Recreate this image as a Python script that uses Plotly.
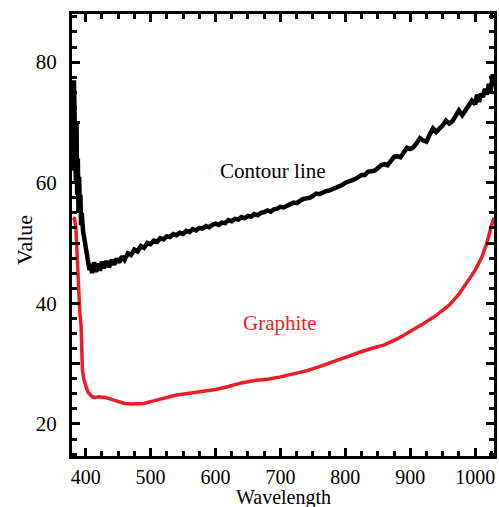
import plotly.graph_objects as go

# Contour line (black, noisy)
contour_wl = [380, 381, 382, 383, 384, 385, 386, 387, 388, 389, 390, 391, 392, 393, 394, 396, 398,
              400, 402, 404, 406, 408, 410, 413, 416, 419, 422, 425, 428, 432, 436, 440, 444, 448,
              452, 456, 460, 465, 470, 475, 480, 485, 490, 495, 500, 505, 510, 515, 520, 525, 530,
              535, 540, 545, 550, 555, 560, 565, 570, 575, 580, 585, 590, 595, 600, 605, 610, 615,
              620, 625, 630, 635, 640, 645, 650, 655, 660, 665, 670, 675, 680, 685, 690, 695, 700,
              705, 710, 715, 720, 725, 730, 735, 740, 745, 750, 755, 760, 765, 770, 775, 780, 785,
              790, 795, 800, 805, 810, 815, 820, 825, 830, 835, 840, 845, 850, 855, 860, 865, 870,
              875, 880, 885, 890, 895, 900, 905, 910, 915, 920, 925, 930, 935, 940, 945, 950, 955,
              960, 965, 970, 975, 980, 985, 990, 995, 1000, 1003, 1006, 1009, 1012, 1015, 1018,
              1021, 1024, 1027, 1029]
contour_val = [74.0, 62.0, 77.0, 66.0, 72.0, 60.0, 70.0, 58.0, 64.0, 55.0, 61.0, 56.0, 58.0, 53.0, 55.0, 52.0, 50.5,
               49.0, 48.5, 47.0, 45.5, 46.5, 45.0, 46.8, 45.2, 46.6, 45.4, 46.9, 45.8, 47.0, 46.0, 47.2, 46.4, 47.4,
               46.8, 47.8, 47.2, 48.3, 48.0, 48.9, 48.6, 49.5, 49.2, 50.0, 49.8, 50.4, 50.2, 50.8, 50.6, 51.1, 51.0,
               51.5, 51.3, 51.7, 51.5, 52.0, 51.8, 52.3, 52.1, 52.5, 52.4, 52.8, 52.6, 53.0, 53.2, 53.0, 53.4, 53.3,
               53.8, 53.6, 54.0, 53.9, 54.3, 54.1, 54.5, 54.4, 54.8, 54.6, 55.0, 55.1, 55.4, 55.2, 55.6, 55.7, 56.0,
               55.9, 56.2, 56.5, 56.7, 56.6, 57.0, 57.3, 57.4, 57.5, 57.8, 58.2, 58.1, 58.4, 58.6, 58.7, 58.9, 59.3,
               59.5, 59.6, 60.0, 60.3, 60.4, 60.6, 60.9, 61.3, 61.3, 61.8, 61.9, 62.0, 62.4, 62.9, 63.1, 62.9, 63.6,
               64.3, 64.4, 64.2, 65.0, 65.8, 65.6, 65.9, 66.6, 67.4, 67.0, 66.8, 68.0, 69.0, 68.4, 68.9, 69.5, 70.3,
               69.8, 70.2, 71.0, 72.0, 71.2, 72.0, 72.5, 73.6, 73.0, 74.6, 73.4, 74.8, 74.2, 75.6, 74.6, 76.4,
               75.2, 78.0, 76.0, 79.0, 77.0]

# Graphite (red, smooth)
graphite_wl = [380, 383, 385, 387, 389, 391, 393, 394, 395, 397, 399, 401, 404, 407, 410, 415, 420, 430,
               440, 450, 460, 470, 480, 490, 500, 510, 520, 540, 560, 580, 600, 620, 640, 660, 680,
               700, 720, 740, 760, 780, 800, 820, 840, 860, 880, 900, 920, 940, 960, 975, 990, 1000,
               1010, 1018, 1024, 1029]
graphite_val = [54.2, 54.0, 52.5, 48.0, 41.0, 38.5, 36.3, 32.0, 29.0, 27.5, 26.5, 26.0, 25.2, 24.8, 24.5, 24.4, 24.5, 24.4,
                24.1, 23.7, 23.4, 23.3, 23.3, 23.4, 23.7, 24.0, 24.3, 24.8, 25.1, 25.4, 25.7, 26.2, 26.8, 27.2, 27.4,
                27.8, 28.3, 28.8, 29.5, 30.3, 31.1, 31.8, 32.5, 33.1, 34.1, 35.3, 36.6, 38.0, 39.7, 41.5, 43.8, 45.5,
                47.6, 50.0, 52.5, 54.2]

x_ticks = [400, 500, 600, 700, 800, 900, 1000]
y_ticks = [20, 30, 40, 50, 60, 70, 80]
y_ticktext = ["20", "", "40", "", "60", "", "80"]

FONT = "Liberation Serif"

fig = go.Figure()
fig.add_trace(go.Scatter(x=contour_wl, y=contour_val, mode="lines",
                         line=dict(color="black", width=4.5), name="Contour line"))
fig.add_trace(go.Scatter(x=graphite_wl, y=graphite_val, mode="lines",
                         line=dict(color="#ee1c25", width=3.5), name="Graphite"))

fig.add_annotation(x=688, y=62.0, text="Contour line", showarrow=False,
                   font=dict(family=FONT, size=21, color="black"))
fig.add_annotation(x=698, y=36.8, text="Graphite", showarrow=False,
                   font=dict(family=FONT, size=21, color="#ee1c25"))
# axis titles as paper annotations
fig.add_annotation(xref="paper", yref="paper", x=0.50, y=-0.093, text="Wavelength", showarrow=False,
                   xanchor="center", yanchor="middle", font=dict(family=FONT, size=20, color="black"))
fig.add_annotation(xref="paper", yref="paper", x=-0.111, y=0.489, text="Value", showarrow=False,
                   textangle=-90, xanchor="center", yanchor="middle",
                   font=dict(family=FONT, size=22, color="black"))

fig.update_layout(
    width=499, height=507,
    margin=dict(l=72, r=2, t=14, b=51),
    paper_bgcolor="white", plot_bgcolor="white",
    showlegend=False,
    font=dict(family=FONT, size=21, color="black"),
    xaxis=dict(range=[379, 1029], tickvals=x_ticks, ticks="inside", ticklen=8, tickwidth=3,
               tickcolor="black", showline=True, linewidth=3, linecolor="black", mirror="allticks",
               showgrid=False, zeroline=False, ticklabelstandoff=1,
               tickfont=dict(family=FONT, size=20),
               minor=dict(dtick=25, tick0=400, ticks="inside", ticklen=5, tickwidth=3, tickcolor="black", showgrid=False)),
    yaxis=dict(range=[14.68, 87.98], tickvals=y_ticks, ticktext=y_ticktext, ticks="inside", ticklen=8,
               tickwidth=3, tickcolor="black", showline=True, linewidth=3, linecolor="black",
               mirror="allticks", showgrid=False, zeroline=False, ticklabelstandoff=8,
               tickfont=dict(family=FONT, size=21),
               minor=dict(dtick=2.5, tick0=20, ticks="inside", ticklen=5, tickwidth=3, tickcolor="black", showgrid=False)),
)

fig.write_html("out.html")
